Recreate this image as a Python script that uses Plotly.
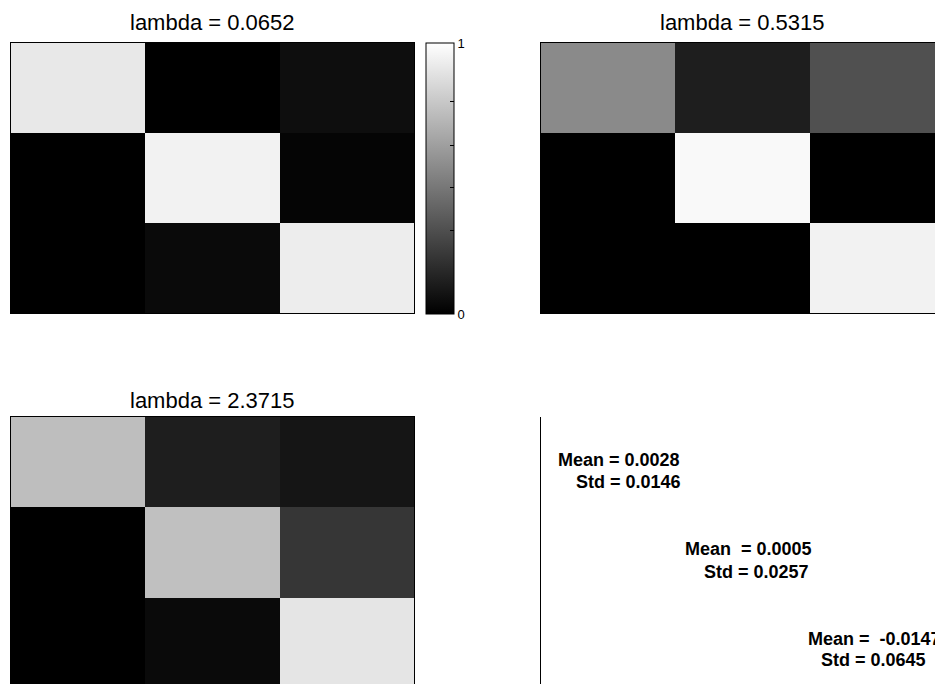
import plotly.graph_objects as go

W, H = 935, 684

# ---- data ----
titles = ["lambda = 0.0652", "lambda = 0.5315", "lambda = 2.3715"]
z1 = [[0.91, 0.00, 0.055],
      [0.00, 0.95, 0.02],
      [0.00, 0.04, 0.93]]
z2 = [[0.54, 0.118, 0.314],
      [0.00, 0.976, 0.00],
      [0.00, 0.00, 0.95]]
z3 = [[0.745, 0.118, 0.082],
      [0.00, 0.753, 0.212],
      [0.00, 0.04, 0.898]]
stat_lines = ["Mean = 0.0028", "Std = 0.0146",
              "Mean  = 0.0005", "Std = 0.0257",
              "Mean =  -0.0147", "Std = 0.0645"]
cbar_tickvals = [0, 0.307, 0.465, 0.62, 0.783, 1]
cbar_ticktext = ["0", "", "", "", "", "1"]

# ---- layout helpers (pixel -> paper) ----
def px(x):
    return x / W

def py(y):
    return 1 - y / H

gray = [[0, "#000000"], [1, "#ffffff"]]
FONT = "Liberation Sans, Arial, sans-serif"

fig = go.Figure()
fig.add_trace(go.Heatmap(z=z1, colorscale=gray, zmin=0, zmax=1, xaxis="x", yaxis="y",
                         showscale=True,
                         colorbar=dict(x=px(426), xanchor="left", xpad=0, ypad=0,
                                       y=py(43), yanchor="top", lenmode="pixels", len=271,
                                       thickness=28, thicknessmode="pixels",
                                       outlinecolor="black", outlinewidth=1,
                                       ticks="inside", ticklen=4, tickcolor="black",
                                       tickvals=cbar_tickvals, ticktext=cbar_ticktext,
                                       tickfont=dict(family=FONT, size=13, color="black"))))
fig.add_trace(go.Heatmap(z=z2, colorscale=gray, zmin=0, zmax=1, xaxis="x2", yaxis="y2",
                         showscale=False))
fig.add_trace(go.Heatmap(z=z3, colorscale=gray, zmin=0, zmax=1, xaxis="x3", yaxis="y3",
                         showscale=False))

noax = dict(showticklabels=False, ticks="", showgrid=False, zeroline=False,
            linecolor="black", linewidth=1)

cw = (414 - 11) / 3.0  # cell width in px
ch_bot = (688 - 417) / 3.0

fig.update_layout(
    width=W, height=H,
    margin=dict(l=0, r=0, t=0, b=0),
    paper_bgcolor="white", plot_bgcolor="white",
    showlegend=False,
    xaxis=dict(domain=[px(11), px(414)], range=[-0.5, 2.5], showline=True, mirror=True, **noax),
    yaxis=dict(domain=[py(313), py(43)], range=[2.5, -0.5], showline=True, mirror=True, **noax),
    xaxis2=dict(domain=[px(541), 1], range=[-0.5, -0.5 + (W - 541) / cw], showline=True, mirror=True,
                anchor="y2", **noax),
    yaxis2=dict(domain=[py(313), py(43)], range=[2.5, -0.5], showline=True, mirror=False,
                anchor="x2", **noax),
    xaxis3=dict(domain=[px(11), px(414)], range=[-0.5, 2.5], showline=True, mirror=False, side="top",
                anchor="y3", **noax),
    yaxis3=dict(domain=[0, py(417)], range=[-0.5 + (H - 417) / ch_bot, -0.5], showline=True, mirror=True,
                anchor="x3", **noax),
    xaxis4=dict(domain=[px(541), 1], range=[0, 1], visible=False, anchor="y4"),
    yaxis4=dict(domain=[0, py(417)], range=[0, 1], showline=True, anchor="x4", **noax),
)
# empty trace for axis 4
fig.add_trace(go.Scatter(x=[], y=[], xaxis="x4", yaxis="y4", hoverinfo="skip"))

ann = []
title_pos = [(212.5, 23), (742.5, 23), (212.5, 400)]
for t, (cx, cy) in zip(titles, title_pos):
    ann.append(dict(text=t, x=px(cx), y=py(cy), xref="paper", yref="paper",
                    xanchor="center", yanchor="middle", showarrow=False,
                    font=dict(family=FONT, size=22, color="black")))

stat_pos = [(556, 460), (574, 482), (683, 549), (702, 572), (806, 639), (819, 660)]
for t, (lx, cy) in zip(stat_lines, stat_pos):
    ann.append(dict(text="<b>" + t + "</b>", x=px(lx), y=py(cy), xref="paper", yref="paper",
                    xanchor="left", yanchor="middle", showarrow=False,
                    font=dict(family=FONT, size=18, color="black")))
fig.update_layout(annotations=ann)

fig.write_html("out.html", config={"displayModeBar": False},
               post_script="document.body.style.margin='0';document.body.style.overflow='hidden';")
